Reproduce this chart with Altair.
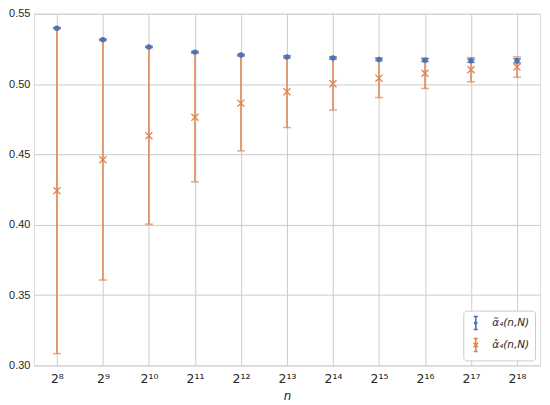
import altair as alt
import pandas as pd

# exponents k of n = 2^k
exponents = [8, 9, 10, 11, 12, 13, 14, 15, 16, 17, 18]
tilde_mean = [0.5397, 0.5315, 0.5264, 0.5227, 0.5206, 0.5192, 0.5185, 0.5175, 0.5170, 0.5166, 0.5165]
tilde_err = [0.0005, 0.0005, 0.0005, 0.0006, 0.0006, 0.0007, 0.0008, 0.0009, 0.0010, 0.0012, 0.0015]
hat_mean = [0.4242, 0.4462, 0.4633, 0.4764, 0.4864, 0.4946, 0.5002, 0.5042, 0.5077, 0.5102, 0.5121]
hat_err = [0.1158, 0.0855, 0.0629, 0.0459, 0.0339, 0.0255, 0.0187, 0.0138, 0.0108, 0.0086, 0.0072]
sup = {8: "⁸", 9: "⁹", 10: "¹⁰", 11: "¹¹", 12: "¹²", 13: "¹³", 14: "¹⁴", 15: "¹⁵", 16: "¹⁶", 17: "¹⁷", 18: "¹⁸"}

LAB_T = "α̃₄(n,N)"
LAB_H = "α̂₄(n,N)"
BLUE = "#4c72b0"
ORANGE = "#dd8452"

def frame(means, errs, label):
    return pd.DataFrame({
        "k": exponents,
        "mean": means,
        "lo": [m - e for m, e in zip(means, errs)],
        "hi": [m + e for m, e in zip(means, errs)],
        "series": label,
    })

dt = frame(tilde_mean, tilde_err, LAB_T)
dh = frame(hat_mean, hat_err, LAB_H)
dall = pd.concat([dt, dh])

label_expr = " : ".join(f"datum.value == {k} ? '2{sup[k]}'" for k in exponents) + " : ''"

x = alt.X("k:Q", scale=alt.Scale(domain=[7.5, 18.5], nice=False, zero=False),
          axis=alt.Axis(values=exponents, labelExpr=label_expr, title="n",
                        labelFont="DejaVu Sans", labelFontSize=12.5, labelColor="#262626",
                        titleFont="DejaVu Sans", titleFontStyle="italic", titleFontWeight="normal",
                        titleFontSize=12, titleColor="#262626", titlePadding=6,
                        labelPadding=7, tickSize=0, domain=False,
                        grid=True, gridColor="#cccccc", gridWidth=1))
y_axis = alt.Axis(values=[0.30, 0.35, 0.40, 0.45, 0.50, 0.55], format=".2f", title=None,
                  labelFont="Liberation Sans", labelFontSize=11, labelColor="#262626",
                  labelPadding=4, tickSize=0, domain=False,
                  grid=True, gridColor="#cccccc", gridWidth=1)
yscale = alt.Scale(domain=[0.30, 0.55], nice=False, zero=False)

def errbar(df, color):
    return alt.Chart(df).mark_errorbar(ticks=True, color=color, thickness=1.5, size=8).encode(
        x=x,
        y=alt.Y("lo:Q", scale=yscale, axis=y_axis),
        y2="hi:Q",
    )

err_h = errbar(dh, ORANGE)
err_t = errbar(dt, BLUE)

pts_h = alt.Chart(dh).mark_point(shape="M-1,-1L1,1M-1,1L1,-1", size=50, filled=False,
                                 color=ORANGE, strokeWidth=1.3, opacity=1).encode(
    x=x, y=alt.Y("mean:Q", scale=yscale, axis=y_axis))
pts_t = alt.Chart(dt).mark_point(shape="circle", size=30, filled=True, color=BLUE, opacity=1).encode(
    x=x, y=alt.Y("mean:Q", scale=yscale, axis=y_axis))

sym_t = "M-0.32,-1H0.32M0,-1V1M-0.32,1H0.32M0.15,0A0.15,0.15 0 1,1 -0.15,0A0.15,0.15 0 1,1 0.15,0"
sym_h = "M-0.32,-1H0.32M0,-1V1M-0.32,1H0.32M-0.35,-0.35L0.35,0.35M-0.35,0.35L0.35,-0.35"

legend = alt.Legend(title=None, orient="bottom-right", offset=5, padding=5,
                    fillColor="white", strokeColor="#cccccc", cornerRadius=3,
                    labelFont="DejaVu Sans", labelFontSize=10.5, labelFontStyle="italic",
                    labelColor="#262626",
                    symbolSize=170, symbolStrokeWidth=1.6, symbolOpacity=1,
                    rowPadding=1, labelOffset=9)

legend_layer = alt.Chart(dall).mark_point(filled=False, opacity=0, size=170).encode(
    x=x, y=alt.Y("mean:Q", scale=yscale, axis=y_axis),
    color=alt.Color("series:N", scale=alt.Scale(domain=[LAB_T, LAB_H], range=[BLUE, ORANGE]), legend=legend),
    shape=alt.Shape("series:N", scale=alt.Scale(domain=[LAB_T, LAB_H], range=[sym_t, sym_h]), legend=legend),
)

chart = alt.layer(err_h, err_t, pts_h, pts_t, legend_layer).properties(
    width=508, height=353,
    autosize=alt.AutoSizeParams(type="none"),
    padding={"left": 26, "top": 5, "right": 2, "bottom": 36},
).configure_view(stroke="#cccccc", strokeWidth=1.25).configure(background="white")

chart.save("out.html", embed_options={"renderer": "svg", "actions": False})
